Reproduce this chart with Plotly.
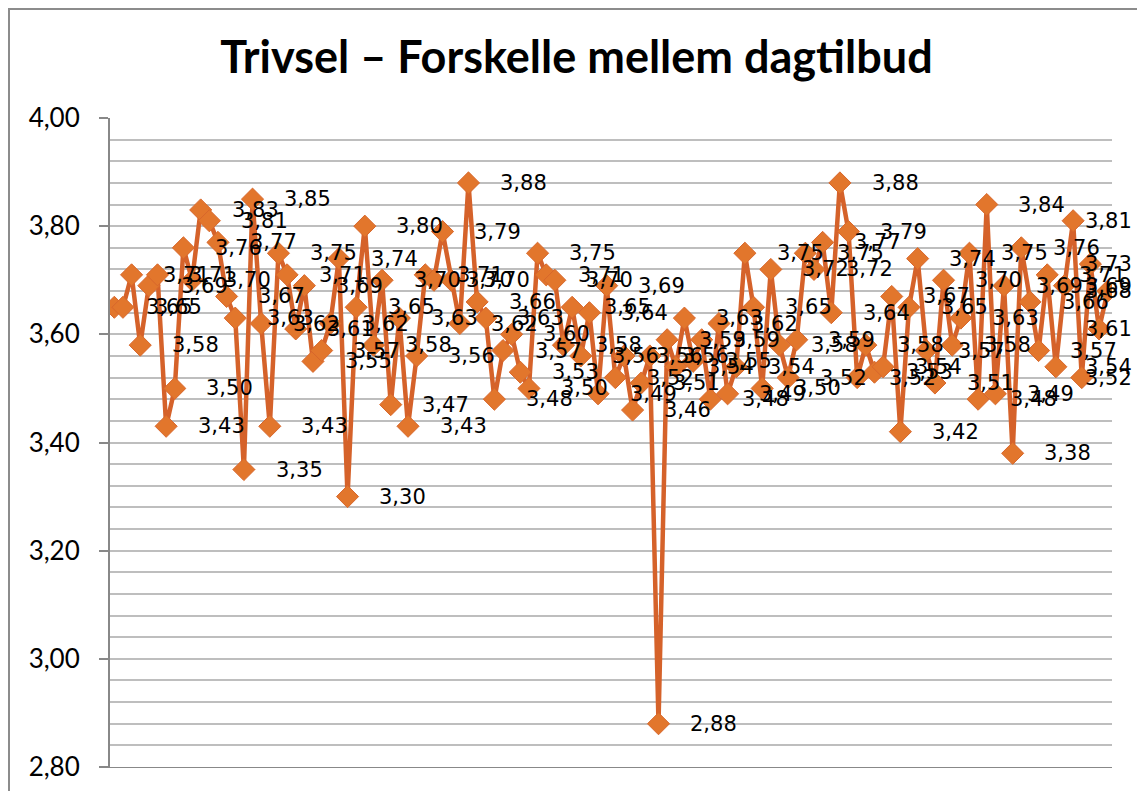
import plotly.graph_objects as go

title_text = "Trivsel – Forskelle mellem dagtilbud"
values = [
    3.65, 3.65, 3.71, 3.58, 3.69, 3.71, 3.43, 3.50, 3.76, 3.70,
    3.83, 3.81, 3.77, 3.67, 3.63, 3.35, 3.85, 3.62, 3.43, 3.75,
    3.71, 3.61, 3.69, 3.55, 3.57, 3.62, 3.74, 3.30, 3.65, 3.80,
    3.58, 3.70, 3.47, 3.63, 3.43, 3.56, 3.71, 3.70, 3.79, 3.70,
    3.62, 3.88, 3.66, 3.63, 3.48, 3.57, 3.60, 3.53, 3.50, 3.75,
    3.71, 3.70, 3.58, 3.65, 3.56, 3.64, 3.49, 3.69, 3.52, 3.56,
    3.46, 3.51, 3.56, 2.88, 3.59, 3.54, 3.63, 3.55, 3.59, 3.48,
    3.62, 3.49, 3.54, 3.75, 3.65, 3.50, 3.72, 3.58, 3.52, 3.59,
    3.75, 3.72, 3.77, 3.64, 3.88, 3.79, 3.52, 3.58, 3.53, 3.54,
    3.67, 3.42, 3.65, 3.74, 3.57, 3.51, 3.70, 3.58, 3.63, 3.75,
    3.48, 3.84, 3.49, 3.69, 3.38, 3.76, 3.66, 3.57, 3.71, 3.54,
    3.69, 3.81, 3.52, 3.73, 3.61, 3.68,
]
categories = list(range(1, len(values) + 1))
y_ticks = [2.80, 3.00, 3.20, 3.40, 3.60, 3.80, 4.00]

# page body has an 8px margin, so the figure is laid out 8px up/left
OFF = 8
W, H = 1145 - OFF, 791 - OFF
L, T = 110 - OFF, 118 - OFF
R = W - (1112 - OFF)
B = H - (767 - OFF)
plot_w = W - L - R
plot_h = H - T - B

line_color = "#D5622A"
marker_color = "#E2762C"
grid_color = "#BEBEBE"
label_font = dict(family="DejaVu Sans", size=21, color="black")

fig = go.Figure()
fig.add_trace(go.Scatter(
    x=categories, y=values, mode="lines+markers",
    line=dict(color=line_color, width=4.5),
    marker=dict(symbol="diamond", size=17, color=marker_color,
                line=dict(color="#D8672C", width=1)),
    hoverinfo="skip", showlegend=False,
))

n = len(values)
label_w = 47
right_limit = plot_w + 22
annotations = []
for i, (c, v) in enumerate(zip(categories, values)):
    txt = f"{v:.2f}".replace(".", ",")
    px = (i + 0.5) / n * plot_w
    if px + 33 + label_w > right_limit:
        annotations.append(dict(x=right_limit / plot_w, xref="paper", y=v, yref="y",
                                text=txt, showarrow=False, xanchor="right",
                                font=label_font))
    else:
        annotations.append(dict(x=c, y=v, xref="x", yref="y", text=txt, showarrow=False,
                                xanchor="left", xshift=21, font=label_font))

fig.update_layout(
    width=W, height=H,
    margin=dict(l=L, r=R, t=T, b=B, autoexpand=False),
    paper_bgcolor="white", plot_bgcolor="white",
    separators=",.",
    title=dict(text=f"<b>{title_text}</b>", x=0.5, xanchor="center", y=1 - (57 - OFF) / H,
               yanchor="middle", font=dict(family="Lato", size=45, color="black")),
    annotations=annotations,
    xaxis=dict(type="category", range=[-0.5, n - 0.5], showticklabels=False,
               showgrid=False, zeroline=False, showline=True, linecolor="#888888",
               linewidth=1, ticks="", automargin=False),
    yaxis=dict(range=[2.80, 4.00], tickvals=y_ticks, tickformat=".2f",
               showgrid=True, gridcolor=grid_color, gridwidth=2,
               minor=dict(dtick=0.04, tick0=2.8, showgrid=True, gridcolor=grid_color, gridwidth=2),
               showline=True, linecolor="#888888", linewidth=2,
               ticks="outside", ticklen=9, tickcolor="#888888", tickwidth=2,
               ticklabelstandoff=14, automargin=False,
               tickfont=dict(family="Lato", size=26, color="black"), zeroline=False),
    shapes=[dict(type="rect", xref="paper", yref="paper",
                 x0=-(L - 1) / plot_w, x1=(W - 5 - L) / plot_w,
                 y0=-(B + 10) / plot_h, y1=1 + (T - 1) / plot_h,
                 line=dict(color="#8C8C8C", width=2), fillcolor="rgba(0,0,0,0)",
                 layer="above")],
)

fig.write_html("out.html")
